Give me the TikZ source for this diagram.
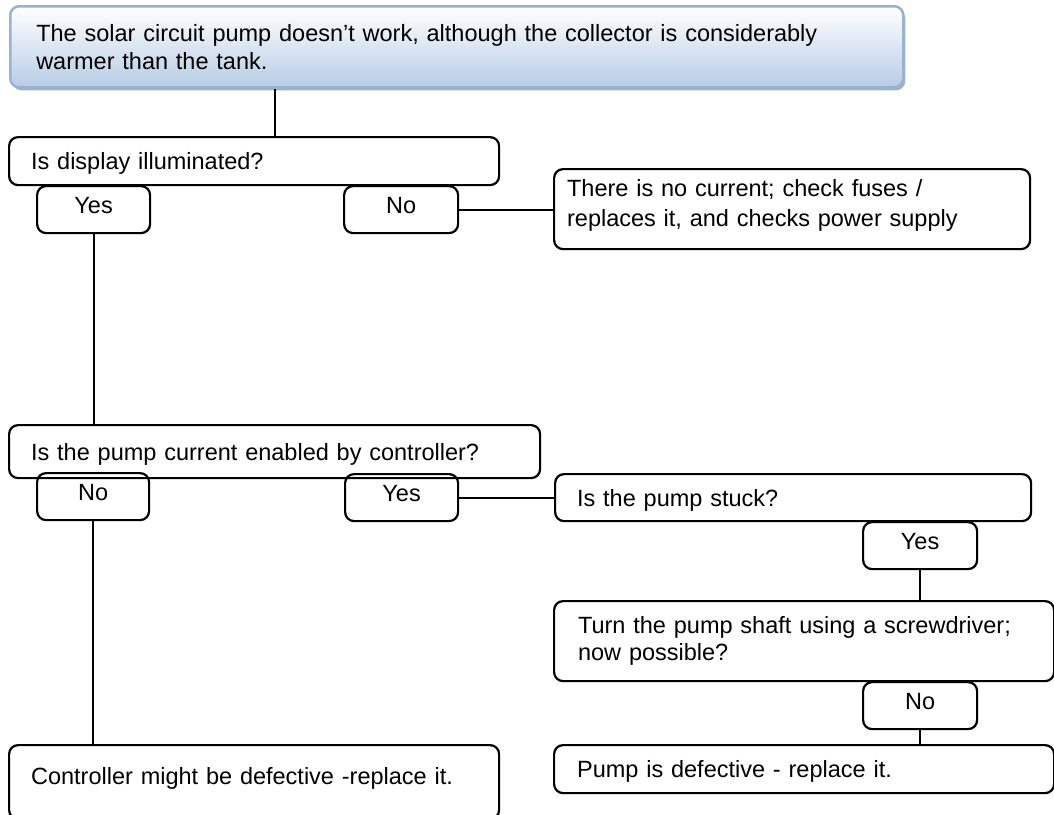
\documentclass[tikz,border=0pt]{standalone}
\usepackage{fontspec}
\setmainfont{Liberation Sans}
\usetikzlibrary{shadows}
\definecolor{topborder}{RGB}{149,179,215}
\definecolor{topfill}{RGB}{184,204,229}
\definecolor{shadowgray}{RGB}{150,155,168}
\begin{document}
\begin{tikzpicture}[x=1pt,y=-1pt,
  font=\fontsize{23.5}{28}\selectfont,
  box/.style={draw, line width=2.2pt, rounded corners=9pt, anchor=north west, align=left, inner ysep=0pt},
  oneline/.style={text height=17pt, text depth=-4pt},
  yn/.style={draw, line width=2.2pt, rounded corners=9pt, anchor=north west, inner sep=0pt,
             text height=17pt, text depth=10pt},
  link/.style={line width=2.2pt}]
\useasboundingbox (0,0) rectangle (1054,814);

% header
\node[box, inner xsep=26pt, text width=841pt, minimum height=81pt,
      draw=topborder, line width=2.5pt, top color=white, bottom color=topfill,
      drop shadow={shadow xshift=2pt, shadow yshift=-3pt, fill=shadowgray, opacity=0.8}]
  (top) at (9,5) {The solar circuit pump doesn’t work, although the collector is considerably\\warmer than the tank.};

% first question
\node[box, oneline, inner xsep=22pt, text width=446pt, minimum height=48pt] (q1) at (8,136) {Is display illuminated?};
\node[yn, minimum width=113pt, minimum height=47pt] (y1) at (36,185) {Yes};
\node[yn, minimum width=114pt, minimum height=47pt] (n1) at (343,185) {No};
\node[box, inner xsep=13pt, text width=450pt, minimum height=80pt, font=\fontsize{23.5}{30}\selectfont,
      text height=17pt, text depth=43pt]
  (r1) at (553,168) {There is no current; check fuses /\\replaces it, and checks power supply};

% second question
\node[box, oneline, inner xsep=22pt, text width=487pt, minimum height=53pt] (q2) at (8,424) {Is the pump current enabled by controller?};
\node[yn, minimum width=112pt, minimum height=47pt] (no2) at (36,472) {No};
\node[yn, minimum width=113pt, minimum height=47pt] (yes2) at (344,473) {Yes};

% right branch
\node[box, oneline, inner xsep=22pt, text width=432pt, minimum height=47pt] (stuck) at (554,473) {Is the pump stuck?};
\node[yn, minimum width=114pt, minimum height=47pt] (ys) at (862,521) {Yes};
\node[box, inner xsep=24pt, text width=452pt, minimum height=80pt, font=\fontsize{23.5}{27}\selectfont]
  (turn) at (553,600) {Turn the pump shaft using a screwdriver;\\now possible?};
\node[yn, minimum width=114pt, minimum height=47pt] (ns) at (862,681) {No};
\node[box, oneline, inner xsep=23pt, text width=454pt, minimum height=48pt] (pd) at (553,744) {Pump is defective - replace it.};

% left result
\node[box, inner xsep=22pt, text width=446pt, minimum height=74pt, text height=17pt, text depth=12pt]
  (ctrl) at (8,744) {Controller might be defective -replace it.};

% connectors
\draw[link] ([xshift=266pt]top.south west) -- ([xshift=267pt]q1.north west);
\draw[link] (y1.south) -- (y1.south |- q2.north);
\draw[link] (n1.east) -- (n1.east -| r1.west);
\draw[link] (no2.south) -- (no2.south |- ctrl.north);
\draw[link] (yes2.east) -- (yes2.east -| stuck.west);
\draw[link] (ys.south) -- (ys.south |- turn.north);
\draw[link] (ns.south) -- (ns.south |- pd.north);
\end{tikzpicture}
\end{document}
